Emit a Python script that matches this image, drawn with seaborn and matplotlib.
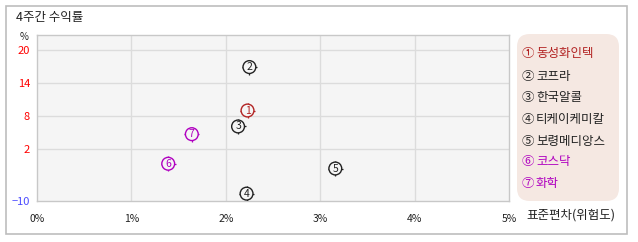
import numpy as np
import pandas as pd
import matplotlib
matplotlib.use("Agg")
import matplotlib.pyplot as plt
from matplotlib.patches import FancyBboxPatch, Rectangle
import seaborn as sns

# ---- data ----
names = ["동성화인텍", "코프라", "한국알콜", "티케이케미칼", "보령메디앙스", "코스닥", "화학"]
labels = ["1", "2", "3", "4", "5", "6", "7"]
circled = ["①", "②", "③", "④", "⑤", "⑥", "⑦"]
risk = [2.23, 2.25, 2.13, 2.22, 3.16, 1.39, 1.64]       # 표준편차 (%)
ret = [9.0, 16.9, 6.1, -8.3, -2.5, -1.4, 4.7]            # 4주간 수익률 (%)
colors = ["#b22222", "#222222", "#222222", "#222222", "#222222", "#b000c0", "#b000c0"]
yticks = [-10, 2, 8, 14, 20]
ytick_colors = ["#4b4bff", "#ff0000", "#ff0000", "#ff0000", "#ff0000"]
xticks = [0, 1, 2, 3, 4, 5]
xticklabels = ["0%", "1%", "2%", "3%", "4%", "5%"]

df = pd.DataFrame({"name": names, "label": labels, "risk": risk, "ret": ret})

sns.set_theme(style="white")
plt.rcParams["font.family"] = ["Noto Sans CJK KR", "DejaVu Sans"]

W, H = 638, 242
fig = plt.figure(figsize=(W / 100, H / 100), dpi=100)
fig.patch.set_facecolor("white")

# outer border
fig.patches.append(Rectangle((6 / W, 1 - 234 / H), 621 / W, 228 / H, transform=fig.transFigure,
                             fill=False, edgecolor="#bdbdbd", linewidth=1.2))

ax = fig.add_axes([37 / W, 1 - 201 / H, (509 - 37) / W, (201 - 35) / H])
ax.set_facecolor("#f5f5f5")

k = 4.333 / 5.5
def fwd(y):
    y = np.asarray(y, dtype=float)
    return np.where(y >= 2, y, 2 + (y - 2) * k)
def inv(y):
    y = np.asarray(y, dtype=float)
    return np.where(y >= 2, y, 2 + (y - 2) / k)
ax.set_yscale("function", functions=(fwd, inv))
ax.set_xlim(0, 5)
ax.set_ylim(-10, 22.73)

for x in xticks[1:-1]:
    ax.axvline(x, color="#dcdcdc", lw=1, zorder=0)
for y in yticks[1:]:
    ax.axhline(y, color="#dcdcdc", lw=1, zorder=0)

pal = dict(zip(labels, colors))
sns.scatterplot(data=df, x="risk", y="ret", hue="label", palette=pal, marker="+",
                s=115, linewidth=0.9, legend=False, ax=ax, zorder=3)
sns.scatterplot(data=df, x="risk", y="ret", hue="label", palette=pal, marker="o",
                s=85, linewidth=1.0, legend=False, ax=ax, zorder=4)
coll = ax.collections[-1]
coll.set_facecolor("#f5f5f5")
coll.set_edgecolor([pal[l] for l in df["label"]])
for _, r in df.iterrows():
    ax.text(r["risk"], r["ret"], r["label"], ha="center", va="center", fontsize=7.5,
            color=pal[r["label"]], zorder=5)

ax.set_xticks(xticks)
ax.set_xticklabels(xticklabels, fontsize=7.5, color="#222222")
ax.set_yticks(yticks)
ax.set_yticklabels([str(v) if v >= 0 else "−10" for v in yticks], fontsize=8)
for t, c in zip(ax.get_yticklabels(), ytick_colors):
    t.set_color(c)
ax.tick_params(axis="both", length=0, pad=5)
ax.tick_params(axis="x", pad=9)
ax.set_xlabel("")
ax.set_ylabel("")
for s in ax.spines.values():
    s.set_visible(True)
    s.set_color("#c8c8c8")
    s.set_linewidth(1)

fig.text(16 / W, 1 - 17 / H, "4주간 수익률", fontsize=9, va="center", ha="left", color="#222222")
fig.text(24 / W, 1 - 37 / H, "%", fontsize=7, va="center", ha="center", color="#222222")
fig.text(526 / W, 1 - 215 / H, "표준편차(위험도)", fontsize=9, va="center", ha="left", color="#222222")

# legend box
fig.patches.append(FancyBboxPatch((517 / W, 1 - 201 / H), 102 / W, 167 / H,
                                  boxstyle="round,pad=0,rounding_size=0.02",
                                  transform=fig.transFigure, facecolor="#f5e8e2",
                                  edgecolor="none", mutation_aspect=W / H))
ys = [54, 76, 98, 119, 141, 162, 183]
for c, n, col, y in zip(circled, names, colors, ys):
    fig.text(522 / W, 1 - y / H, c, fontsize=9, va="center", ha="left", color=col)
    fig.text(536 / W, 1 - y / H, n, fontsize=9, va="center", ha="left", color=col)

fig.savefig("out.png", dpi=100)
